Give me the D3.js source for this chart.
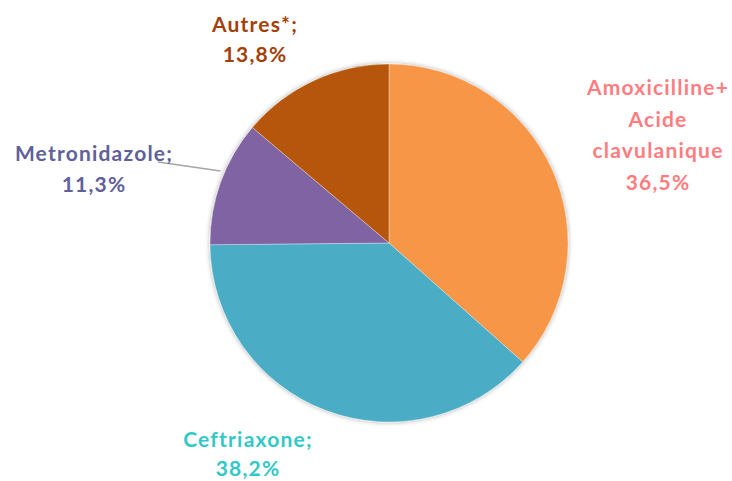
<!DOCTYPE html>
<html>
<head>
<meta charset="utf-8">
<script src="https://cdn.jsdelivr.net/npm/d3@7"></script>
<style>
  body { margin: 0; background: #fff; }
  text { font-family: Lato, "Open Sans", sans-serif; font-weight: bold; }
</style>
</head>
<body>
<div class="canvas"></div>
<script>
const categories = ["Amoxicilline+ Acide clavulanique", "Ceftriaxone", "Metronidazole", "Autres*"];
const values = [36.5, 38.2, 11.3, 13.8];
const sliceColors = ["#F79646", "#4BACC6", "#8064A2", "#B65708"];
const labelColors = ["#FF7C80", "#33C8C8", "#60609A", "#A3400A"];
const labelLines = [
    ["Amoxicilline+", "Acide", "clavulanique", "36,5%"],
    ["Ceftriaxone;", "38,2%"],
    ["Metronidazole;", "11,3%"],
    ["Autres*;", "13,8%"]
];
// centre x and first baseline y of each label block
const labelPos = [[658, 95], [248, 447], [94, 161], [255, 32]];
const lineSteps = [31.5, 29, 31, 29.5];

const width = 732, height = 481,
    cx = 389, cy = 243, radius = 179;

const svg = d3.select('.canvas').append("svg")
    .attr('width', width)
    .attr('height', height);

const defs = svg.append("defs");
const filter = defs.append("filter").attr("id", "shadow")
    .attr("x", "-10%").attr("y", "-10%").attr("width", "120%").attr("height", "120%");
filter.append("feGaussianBlur").attr("in", "SourceAlpha").attr("stdDeviation", 2.5);
filter.append("feComponentTransfer").append("feFuncA").attr("type", "linear").attr("slope", 0.35);
const merge = filter.append("feMerge");
merge.append("feMergeNode");
merge.append("feMergeNode").attr("in", "SourceGraphic");

const pie = d3.pie().sort(null).value(d => d);
const arc = d3.arc().innerRadius(0).outerRadius(radius);

const g = svg.append("g")
    .attr("transform", `translate(${cx},${cy})`)
    .attr("filter", "url(#shadow)");

g.selectAll("path")
    .data(pie(values))
    .enter()
    .append("path")
    .attr("d", arc)
    .attr("fill", (d, i) => sliceColors[i])
    .attr("stroke", "rgba(255,255,255,0.5)")
    .attr("stroke-width", 0.7);

// leader line for Metronidazole
const metro = pie(values)[2];
const mid = (metro.startAngle + metro.endAngle) / 2;
svg.append("line")
    .attr("x1", 158).attr("y1", 162)
    .attr("x2", cx + Math.sin(mid) * (radius - 2) - 2)
    .attr("y2", cy - Math.cos(mid) * (radius - 2) - 12)
    .attr("stroke", "#A6A6A6")
    .attr("stroke-width", 1.5);

const labels = svg.selectAll("g.label")
    .data(categories)
    .enter()
    .append("g")
    .attr("class", "label")
    .attr("transform", (d, i) => `translate(${labelPos[i][0]},${labelPos[i][1]})`);

labels.each(function (d, i) {
    const t = d3.select(this).append("text")
        .attr("text-anchor", "middle")
        .attr("fill", labelColors[i])
        .attr("font-size", 21)
        .attr("letter-spacing", 1.2);
    labelLines[i].forEach((line, k) => {
        t.append("tspan")
            .attr("x", 0)
            .attr("y", k * lineSteps[i])
            .text(line);
    });
});
</script>
</body>
</html>
